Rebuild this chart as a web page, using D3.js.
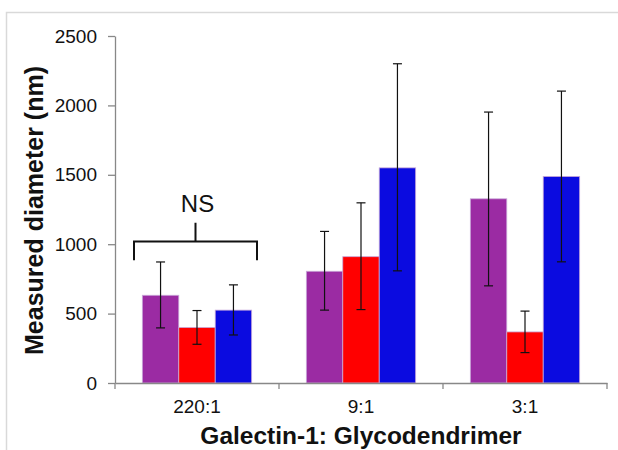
<!DOCTYPE html>
<html>
<head>
<meta charset="utf-8">
<script src="https://cdn.jsdelivr.net/npm/d3@7"></script>
<style>
  body { margin: 0; background: #fff; }
  svg { display: block; font-family: "Liberation Sans", Arial, sans-serif; }
</style>
</head>
<body>
<div id="chart"></div>
<script>
'use strict';

// data
const categories = ['220:1', '9:1', '3:1'];
const seriesNames = ['purple', 'red', 'blue'];
const seriesColors = ['#9b2ba3', '#ff0000', '#0b0be0'];
const values = [
    [632, 805, 1327],
    [400, 910, 368],
    [525, 1550, 1488]
];
const errUp = [
    [240, 287, 625],
    [122, 388, 150],
    [182, 750, 615]
];
const errDown = [
    [235, 280, 627],
    [121, 381, 149],
    [179, 742, 615]
];
const yTicks = [0, 500, 1000, 1500, 2000, 2500];

const width = 618, height = 450;
const margin = {top: 36, right: 11, bottom: 67, left: 115};

const svg = d3.select('#chart').append('svg')
    .attr('width', width)
    .attr('height', height);

// light frame round the chart
svg.append('rect')
    .attr('x', 6.5).attr('y', 12.5)
    .attr('width', 700).attr('height', 500)
    .attr('fill', 'none')
    .attr('stroke', '#d9d9d9')
    .attr('stroke-width', 1.5);

const plot = svg.append('g')
    .attr('transform', `translate(${margin.left},${margin.top})`);

const w = width - margin.left - margin.right;
const h = height - margin.top - margin.bottom;

const x = d3.scaleBand().domain(categories).range([0, w]).paddingInner(0).paddingOuter(0);
const xs = d3.scaleBand().domain(seriesNames).range([x.bandwidth() / 6, x.bandwidth() * 5 / 6]);
const y = d3.scaleLinear().domain([0, 2500]).range([h, 0]);

// bars
const groups = plot.selectAll('.grp')
    .data(categories)
    .enter().append('g')
    .attr('class', 'grp')
    .attr('transform', d => `translate(${x(d)},0)`);

groups.each(function (cat, ci) {
    const g = d3.select(this);
    seriesNames.forEach((s, si) => {
        g.append('rect')
            .attr('x', xs(s))
            .attr('y', y(values[si][ci]))
            .attr('width', xs.bandwidth())
            .attr('height', h - y(values[si][ci]))
            .attr('fill', seriesColors[si])
            .attr('stroke', '#c9a9d9')
            .attr('stroke-width', 0.8);
    });
});

// error bars
groups.each(function (cat, ci) {
    const g = d3.select(this);
    seriesNames.forEach((s, si) => {
        const cx = xs(s) + xs.bandwidth() / 2;
        const hi = y(values[si][ci] + errUp[si][ci]);
        const lo = y(values[si][ci] - errDown[si][ci]);
        g.append('line')
            .attr('x1', cx).attr('x2', cx)
            .attr('y1', hi).attr('y2', lo)
            .attr('stroke', '#111').attr('stroke-width', 1.2);
        [hi, lo].forEach(yy => {
            g.append('line')
                .attr('x1', cx - 4.5).attr('x2', cx + 4.5)
                .attr('y1', yy).attr('y2', yy)
                .attr('stroke', '#111').attr('stroke-width', 1.2);
        });
    });
});

// axes
const yAxis = plot.append('g')
    .call(d3.axisLeft(y).tickValues(yTicks).tickFormat(d3.format('d'))
        .tickSize(7).tickSizeOuter(0).tickPadding(11));
yAxis.select('.domain').attr('stroke', '#888').attr('stroke-width', 1.3);
yAxis.selectAll('.tick line').attr('stroke', '#888').attr('stroke-width', 1.3);
yAxis.selectAll('.tick text')
    .attr('font-size', 19).attr('fill', '#111')
    .attr('font-family', '"Liberation Sans", Arial, sans-serif');

const xAxis = plot.append('g')
    .attr('transform', `translate(0,${h})`)
    .call(d3.axisBottom(x).tickSize(0).tickPadding(17));
xAxis.select('.domain').attr('stroke', '#888').attr('stroke-width', 1.3);
xAxis.selectAll('.tick text')
    .attr('font-size', 19).attr('fill', '#111')
    .attr('font-family', '"Liberation Sans", Arial, sans-serif');

// category separators below the axis
const seps = categories.map(c => x(c)).concat([w]);
xAxis.selectAll('.sep')
    .data(seps)
    .enter().append('line')
    .attr('class', 'sep')
    .attr('x1', d => d).attr('x2', d => d)
    .attr('y1', 0).attr('y2', 6)
    .attr('stroke', '#888').attr('stroke-width', 1.3);

// axis titles
svg.append('text')
    .attr('transform', `translate(43,${margin.top + h / 2 + 1}) rotate(-90)`)
    .attr('text-anchor', 'middle')
    .attr('font-size', 25).attr('font-weight', 'bold').attr('fill', '#111')
    .text('Measured diameter (nm)');

svg.append('text')
    .attr('x', 361).attr('y', 444)
    .attr('text-anchor', 'middle')
    .attr('font-size', 24.5).attr('font-weight', 'bold').attr('fill', '#111')
    .text('Galectin-1: Glycodendrimer');

// NS bracket over the first group
const bx0 = x(categories[0]) + 19, bx1 = x(categories[0]) + 142;
const bTop = y(1020), bFoot = y(885), bStem = y(1155);
const bMid = (bx0 + bx1) / 2;
plot.append('path')
    .attr('d', `M${bx0},${bFoot}V${bTop}H${bx1}V${bFoot}M${bMid},${bTop}V${bStem}`)
    .attr('fill', 'none').attr('stroke', '#111').attr('stroke-width', 2);
plot.append('text')
    .attr('x', bMid + 2).attr('y', y(1230))
    .attr('text-anchor', 'middle')
    .attr('font-size', 24).attr('fill', '#111')
    .text('NS');
</script>
</body>
</html>
